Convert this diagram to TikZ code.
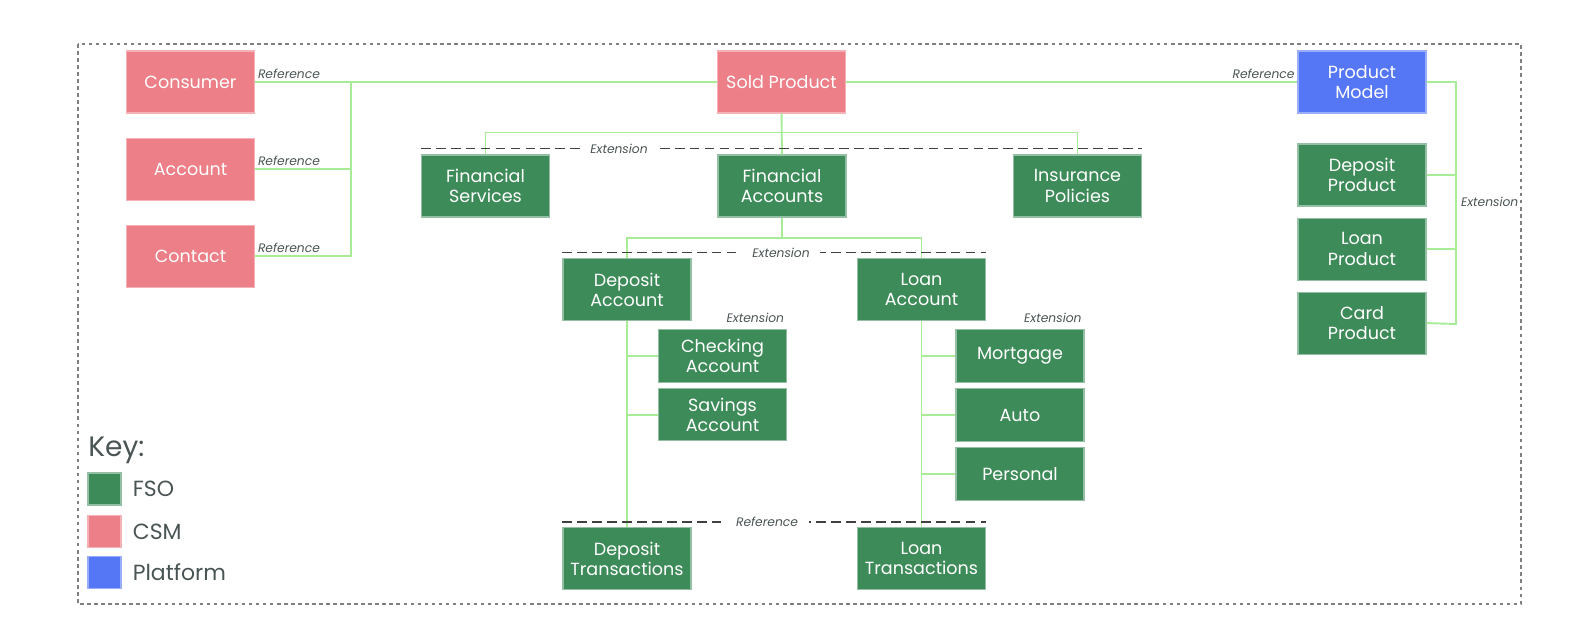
\documentclass[tikz,border=0pt]{standalone}
\usepackage{fontspec}
\setmainfont{Poppins}
\usetikzlibrary{positioning}
\definecolor{fsogreen}{HTML}{3E8B5A}
\definecolor{csmpink}{HTML}{EC7F87}
\definecolor{platblue}{HTML}{5577F6}
\definecolor{linkgreen}{HTML}{A8EC98}
\definecolor{notegray}{HTML}{4A5454}
\begin{document}
\begin{tikzpicture}[
    x=0.02cm, y=-0.02cm,
    box/.style={rectangle, inner sep=1pt, minimum width=2.56cm, minimum height=1.24cm, align=center, text=white, font=\fontsize{10}{11.5}\selectfont, line width=0.6pt},
    short/.style={minimum height=1.05cm},
    fso/.style={box, fill=fsogreen, draw=fsogreen!55!white},
    csm/.style={box, fill=csmpink, draw=csmpink!60!white},
    platform/.style={box, fill=platblue, draw=platblue!60!white},
    link/.style={draw=linkgreen, line width=1.1pt},
    divider/.style={draw=black!75, line width=1.1pt, dash pattern=on 5.5pt off 3pt},
    frame/.style={draw=black!50, line width=0.9pt, dash pattern=on 2pt off 2pt},
    note/.style={text=notegray, font=\fontsize{7}{8}\selectfont\itshape, inner sep=1.5pt},
    gapnote/.style={note, fill=white, inner xsep=6pt},
    keybox/.style={rectangle, minimum width=0.66cm, minimum height=0.64cm, inner sep=0pt, line width=0.6pt},
    keytext/.style={text=notegray, font=\fontsize{12.5}{14}\selectfont, inner sep=0pt}
]
  \useasboundingbox (0,0) rectangle (1586,642);
  \draw[frame] (78,44) rectangle (1521,604);

  % CSM and platform
  \node[csm] (consumer) at (190.5,82) {Consumer};
  \node[csm, below=0.48cm of consumer] (account) {Account};
  \node[csm, below=0.48cm of account] (contact) {Contact};
  \node[csm] (sold) at (781.5,82) {Sold Product};
  \node[platform] (model) at (1362,82) {Product\\Model};

  % FSO tree
  \node[fso] (finsvc) at (485.5,186) {Financial\\Services};
  \node[fso] (finacc) at (782,186) {Financial\\Accounts};
  \node[fso] (inspol) at (1077.5,186) {Insurance\\Policies};
  \node[fso] (depacc) at (627,289.5) {Deposit\\Account};
  \node[fso] (loanacc) at (921.5,289.5) {Loan\\Account};
  \node[fso, short] (checking) at (722.5,356) {Checking\\Account};
  \node[fso, short, below=0.1cm of checking] (savings) {Savings\\Account};
  \node[fso, short] (mortgage) at (1020,356) {Mortgage};
  \node[fso, short, below=0.11cm of mortgage] (auto) {Auto};
  \node[fso, short, below=0.11cm of auto] (personal) {Personal};
  \node[fso] (deptx) at (627,558.5) {Deposit\\Transactions};
  \node[fso] (loantx) at (921.5,558.5) {Loan\\Transactions};

  % products
  \node[fso] (depprod) at (1362,175) {Deposit\\Product};
  \node[fso, below=0.22cm of depprod] (loanprod) {Loan\\Product};
  \node[fso, below=0.22cm of loanprod] (cardprod) {Card\\Product};

  \coordinate (refbus) at (351,82);
  \coordinate (ext1) at (781.5,132.5);
  \coordinate (ext2) at (782,238);
  \coordinate (extbus) at (1456,324);

  \draw[link] (consumer) -- (sold);
  \draw[link] (sold) -- (model);
  \draw[link] (account.east) -| (refbus);
  \draw[link] (contact.east) -| (refbus);
  \draw[link] (sold) -- (finacc);
  \draw[link] (finsvc.north) |- (ext1) -| (inspol.north);
  \draw[link] (finacc) -- (ext2);
  \draw[link] (depacc.north) |- (ext2) -| (loanacc.north);
  \draw[link] (depacc) -- (deptx);
  \draw[link] (loanacc) -- (loantx);
  \foreach \n in {checking,savings}
    \draw[link] (\n.west) -- (\n.west -| depacc);
  \foreach \n in {mortgage,auto,personal}
    \draw[link] (\n.west) -- (\n.west -| loanacc);
  \draw[link] (model.east) -| (extbus) -- (cardprod.east);
  \foreach \n in {depprod,loanprod}
    \draw[link] (\n.east) -- (\n.east -| extbus);

  \draw[divider] ([yshift=3.4pt]finsvc.north west) -- ([yshift=3.4pt]inspol.north east);
  \draw[divider] ([yshift=3.1pt]depacc.north west) -- ([yshift=3.1pt]loanacc.north east);
  \draw[divider] ([yshift=2.8pt]deptx.north west) -- ([yshift=2.8pt]loantx.north east);

  % Labels
  \node[gapnote] (extlbl1) at (619,149) {Extension};
  \node[gapnote] (extlbl2) at (781,252.5) {Extension};
  \node[gapnote] (reflbl3) at (767,522) {Reference};
  \node[note, anchor=south west] (refcons) at (consumer.east) {Reference};
  \node[note, anchor=south west] (refacc) at (account.east) {Reference};
  \node[note, anchor=south west] (refcont) at (contact.east) {Reference};
  \node[note, anchor=south east] (refmodel) at (model.west) {Reference};
  \node[note, anchor=south east, yshift=2pt] (extdep) at (checking.north east) {Extension};
  \node[note, anchor=south east, yshift=2pt] (extloan) at (mortgage.north east) {Extension};
  \node[note, anchor=west] (extprod) at (1458,202) {Extension};

  % Key
  \node[text=notegray, font=\fontsize{16}{18}\selectfont, anchor=west, inner sep=0pt] (keyhead) at (88,450) {Key:};
  \node[keybox, fill=fsogreen, draw=fsogreen!55!white] (kfso) at (104.5,489) {};
  \node[keybox, fill=csmpink, draw=csmpink!60!white] (kcsm) at (104.5,531.5) {};
  \node[keybox, fill=platblue, draw=platblue!60!white] (kplat) at (104.5,572.5) {};
  \node[keytext, right=0.22cm of kfso] (tfso) {FSO};
  \node[keytext, right=0.22cm of kcsm] (tcsm) {CSM};
  \node[keytext, right=0.22cm of kplat] (tplat) {Platform};
\end{tikzpicture}
\end{document}
